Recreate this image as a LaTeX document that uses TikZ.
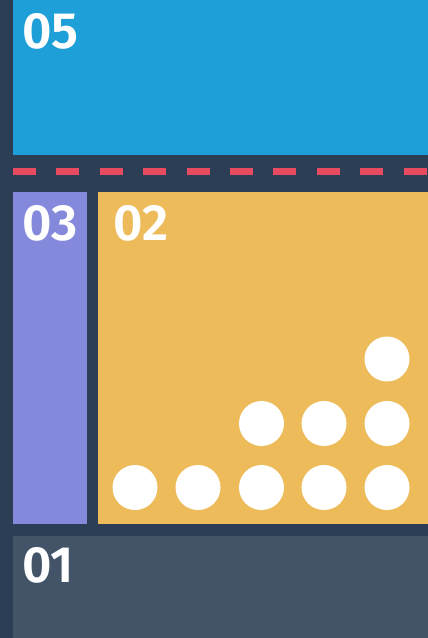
\documentclass[tikz,border=0pt]{standalone}
\usepackage{fontspec}
\setmainfont{Fira Sans}[BoldFont={Fira Sans SemiBold}]
\definecolor{bgnavy}{HTML}{2C3E55}
\definecolor{boxblue}{HTML}{1F9FD8}
\definecolor{boxpurple}{HTML}{8489DC}
\definecolor{boxyellow}{HTML}{EDBB5A}
\definecolor{boxslate}{HTML}{435468}
\definecolor{dashred}{HTML}{E84A5F}
\tikzset{
  panel/.style={inner sep=0pt, outer sep=0pt},
  numlabel/.style={anchor=base west, inner sep=0pt, text=white, font=\fontsize{51}{51}\selectfont\bfseries},
  dot/.style={circle, fill=white, minimum size=45pt, inner sep=0pt},
  sepline/.style={draw=dashred, line width=6.5pt, dash pattern=on 23pt off 20.4pt}
}
\begin{document}
\begin{tikzpicture}[x=1pt,y=-1pt]
\fill[bgnavy] (0,0) rectangle (428,638);
\useasboundingbox (0,0) rectangle (428,638);
% panels
\fill[boxblue] (13,0) rectangle (428,155);
\fill[boxpurple] (13,192) rectangle (87,524);
\fill[boxyellow] (98,192) rectangle (428,524);
\fill[boxslate] (13,536) rectangle (428,638);
% separator
\coordinate (sepL) at (13,171.5);
\coordinate (sepR) at (428,171.5);
\draw[sepline] (sepL) -- (sepR);
% labels
\node[numlabel] (l05) at (22,48) {05};
\node[numlabel] (l03) at (22,240) {03};
\node[numlabel] (l02) at (113,240) {02};
\node[numlabel] (l01) at (22,582) {01};
% dots
\node[dot] (d1) at (135,487.5) {};
\node[dot] (d2) at (198,487.5) {};
\node[dot] (d3) at (261.5,487.5) {};
\node[dot] (d4) at (324,487.5) {};
\node[dot] (d5) at (387,487.5) {};
\node[dot] (d6) at (261.5,423.5) {};
\node[dot] (d7) at (324,423.5) {};
\node[dot] (d8) at (387,423.5) {};
\node[dot] (d9) at (387,359) {};
\end{tikzpicture}
\end{document}
